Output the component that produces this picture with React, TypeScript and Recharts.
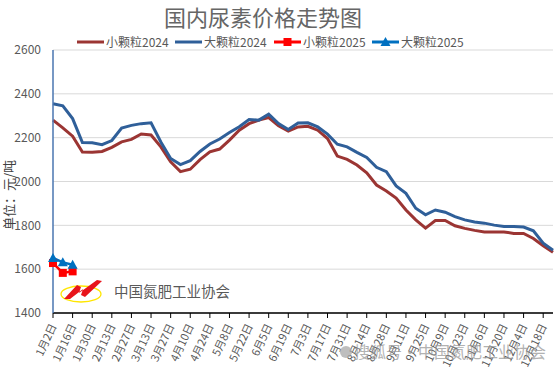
import { CartesianGrid, Line, LineChart, XAxis, YAxis } from "recharts";

document.body.style.margin = "0";

const dates = [
  "1月2日", "1月9日", "1月16日", "1月23日", "1月30日",
  "2月6日", "2月13日", "2月20日", "2月27日",
  "3月6日", "3月13日", "3月20日", "3月27日",
  "4月3日", "4月10日", "4月17日", "4月24日",
  "5月1日", "5月8日", "5月15日", "5月22日", "5月29日",
  "6月5日", "6月12日", "6月19日", "6月26日",
  "7月3日", "7月10日", "7月17日", "7月24日", "7月31日",
  "8月7日", "8月14日", "8月21日", "8月28日",
  "9月4日", "9月11日", "9月18日", "9月25日",
  "10月2日", "10月9日", "10月16日", "10月23日", "10月30日",
  "11月6日", "11月13日", "11月20日", "11月27日",
  "12月4日", "12月11日", "12月18日", "12月25日",
];

const small2024 = [
  2280, 2245, 2207, 2134, 2133, 2137, 2156, 2181, 2192, 2217, 2212, 2158, 2090,
  2045, 2056, 2100, 2135, 2148, 2189, 2234, 2264, 2280, 2292, 2254, 2230, 2249,
  2252, 2234, 2196, 2116, 2101, 2075, 2040, 1984, 1957, 1924, 1870, 1825, 1787,
  1822, 1822, 1798, 1786, 1777, 1770, 1770, 1770, 1763, 1763, 1740, 1707, 1677,
];

const big2024 = [
  2355, 2345, 2287, 2178, 2177, 2168, 2187, 2244, 2256, 2264, 2268, 2180, 2105,
  2077, 2095, 2137, 2171, 2194, 2224, 2250, 2283, 2280, 2307, 2264, 2237, 2267,
  2268, 2249, 2216, 2170, 2158, 2133, 2110, 2065, 2045, 1980, 1946, 1878, 1848,
  1870, 1860, 1840, 1825, 1815, 1810, 1801, 1795, 1795, 1792, 1775, 1719, 1686,
];

const small2025 = [1628, 1583, 1590];
const big2025 = [1651, 1631, 1620];

const yTicks = [1400, 1600, 1800, 2000, 2200, 2400, 2600];

const data = dates.map((date, i) => ({
  date,
  small2024: small2024[i],
  big2024: big2024[i],
  small2025: i < small2025.length ? small2025[i] : null,
  big2025: i < big2025.length ? big2025[i] : null,
}));

const FONT = "'Noto Sans CJK SC', 'Noto Sans', sans-serif";
const GRAY = "#595959";

function XTick({ x, y, payload }: any) {
  return (
    <text
      x={x + 4}
      y={y + 6}
      transform={`rotate(-65 ${x + 4} ${y + 6})`}
      textAnchor="end"
      fontSize={11}
      fontFamily={FONT}
      fill={GRAY}
    >
      {payload.value}
    </text>
  );
}

function SquareDot({ cx, cy }: any) {
  if (cx == null || cy == null) return null;
  return <rect x={cx - 4} y={cy - 4} width={8} height={8} fill="#FF0000" />;
}

function TriangleDot({ cx, cy }: any) {
  if (cx == null || cy == null) return null;
  return <polygon points={`${cx},${cy - 5} ${cx + 5},${cy + 4} ${cx - 5},${cy + 4}`} fill="#0070C0" />;
}

const legendItems = [
  { label: "小颗粒2024", color: "#9B3533", x: 77, marker: null },
  { label: "大颗粒2024", color: "#2F5F99", x: 175, marker: null },
  { label: "小颗粒2025", color: "#FF0000", x: 274, marker: "square" },
  { label: "大颗粒2025", color: "#0070C0", x: 372, marker: "triangle" },
];

function Overlay() {
  return (
    <svg width={557} height={378} style={{ position: "absolute", left: 0, top: 0, pointerEvents: "none" }}>
      <text x={263} y={26} textAnchor="middle" fontSize={22} fontFamily={FONT} fill="#666">
        国内尿素价格走势图
      </text>
      {legendItems.map((it) => (
        <g key={it.label}>
          <line x1={it.x} x2={it.x + 27} y1={42} y2={42} stroke={it.color} strokeWidth={3} />
          {it.marker === "square" && <rect x={it.x + 9.5} y={38} width={8} height={8} fill={it.color} />}
          {it.marker === "triangle" && (
            <polygon points={`${it.x + 13.5},37 ${it.x + 18.5},46 ${it.x + 8.5},46`} fill={it.color} />
          )}
          <text x={it.x + 29} y={46.5} fontSize={12} fontFamily={FONT} fill={GRAY}>
            {it.label}
          </text>
        </g>
      ))}
      <text
        x={14}
        y={195}
        transform="rotate(-90 14 195)"
        textAnchor="middle"
        fontSize={13}
        fontFamily={FONT}
        fill="#404040"
      >
        单位：元/吨
      </text>
      <ellipse cx={81} cy={294} rx={20} ry={8} fill="none" stroke="#FFE600" strokeWidth={1.3} />
      <polygon points="64,299 77,285 81,287 79,293 97,280 102,281 85,297 81,295 83,289 70,299" fill="#E8141B" />
      <text x={114} y={297} fontSize={14.5} fontFamily={FONT} fill={GRAY}>
        中国氮肥工业协会
      </text>
      <circle cx={346} cy={352} r={6} fill="#A8A8A8" opacity={0.75} />
      <text x={354} y={358} fontSize={16} fontFamily={FONT} fill="#999" opacity={0.75}>
        搜狐号·中国氮肥工业协会
      </text>
    </svg>
  );
}

export default function App() {
  return (
    <div style={{ position: "relative", width: 557, height: 378, background: "#fff" }}>
      <LineChart width={557} height={378} data={data} margin={{ top: 50, right: 4, left: 0, bottom: 5 }}>
        <CartesianGrid vertical={false} stroke="#D9D9D9" strokeWidth={1} />
        <XAxis
          dataKey="date"
          interval={1}
          height={60}
          tick={<XTick />}
          tickSize={5}
          tickLine={{ stroke: "#000" }}
          axisLine={{ stroke: "#000", strokeWidth: 1.5 }}
        />
        <YAxis
          width={53}
          domain={[1400, 2600]}
          ticks={yTicks}
          interval={0}
          tickLine={false}
          axisLine={{ stroke: "#4A76B0", strokeWidth: 1.5 }}
          tick={{ fontSize: 12, fill: GRAY, fontFamily: FONT }}
          tickMargin={6}
        />
        <Line dataKey="small2024" stroke="#9B3533" strokeWidth={3} dot={false} isAnimationActive={false} />
        <Line dataKey="big2024" stroke="#2F5F99" strokeWidth={3} dot={false} isAnimationActive={false} />
        <Line dataKey="small2025" stroke="#FF0000" strokeWidth={2.5} dot={<SquareDot />} isAnimationActive={false} />
        <Line dataKey="big2025" stroke="#0070C0" strokeWidth={2.5} dot={<TriangleDot />} isAnimationActive={false} />
      </LineChart>
      <Overlay />
    </div>
  );
}
